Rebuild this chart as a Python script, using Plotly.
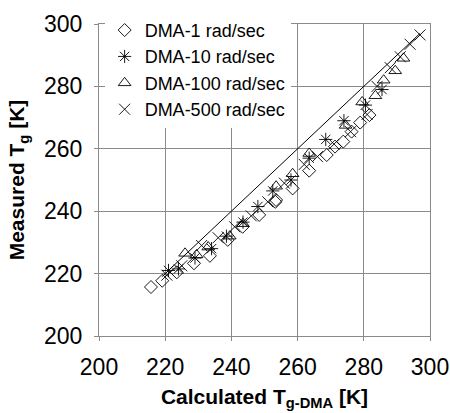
import plotly.graph_objects as go

# Data
dma1_x = [215.7, 219.1, 223.5, 228.7, 233.5, 238.9, 243.4, 248.4, 253.3, 253.5, 258.5, 263.5, 268.8, 271.3, 273.8, 276.3, 278.9, 281.7]
dma1_y = [215.7, 217.7, 220.4, 223.3, 225.7, 230.8, 235.0, 238.8, 243.0, 243.6, 247.3, 253.0, 258.0, 260.7, 262.3, 265.5, 268.4, 270.8]

dma10_x = [221.0, 224.0, 229.0, 234.0, 238.5, 243.5, 248.0, 252.5, 258.0, 263.5, 268.5, 274.0, 280.5, 285.5]
dma10_y = [221.0, 221.5, 225.0, 228.0, 232.0, 236.5, 241.5, 246.5, 250.0, 257.0, 263.0, 269.0, 274.0, 279.0]

dma100_x = [226.0, 229.5, 233.0, 239.5, 243.5, 253.5, 258.5, 263.5, 274.5, 279.5, 283.5, 286.0, 289.5, 292.0]
dma100_y = [226.5, 226.0, 228.5, 232.0, 236.0, 248.0, 252.0, 258.5, 267.5, 275.0, 277.0, 282.0, 285.0, 289.0]

dma500_x = [220.5, 225.0, 231.0, 236.0, 241.0, 246.0, 251.0, 256.0, 262.0, 266.0, 271.0, 276.0, 281.0, 284.0, 288.0, 291.0, 294.0, 297.0]
dma500_y = [219.5, 222.5, 229.0, 231.5, 235.0, 238.5, 243.0, 249.0, 255.0, 257.5, 261.5, 265.5, 271.0, 280.0, 286.0, 289.5, 293.5, 296.5]

line_x = [219.0, 297.0]
line_y = [219.0, 297.0]

tick_vals = [200, 220, 240, 260, 280, 300]
tick_text = ["200", "220", "240", "260", "280", "300"]

FONT = "Arial, Liberation Sans, sans-serif"

fig = go.Figure()
fig.add_trace(go.Scatter(x=line_x, y=line_y, mode="lines", line=dict(color="black", width=1),
                         showlegend=False, hoverinfo="skip"))

series = [
    ("DMA-1 rad/sec", dma1_x, dma1_y, "diamond-open", 10),
    ("DMA-10 rad/sec", dma10_x, dma10_y, "asterisk-open", 11),
    ("DMA-100 rad/sec", dma100_x, dma100_y, "triangle-up-open", 11),
    ("DMA-500 rad/sec", dma500_x, dma500_y, "x-thin-open", 11),
]
for i, (name, xs, ys, sym, sz) in enumerate(series):
    fig.add_trace(go.Scatter(x=xs, y=ys, mode="markers", name=name,
                             marker=dict(symbol=sym, size=sz, color="black",
                                         line=dict(color="black", width=0.9))))

axis_common = dict(
    range=[200, 300], tickvals=tick_vals, ticktext=tick_text,
    showgrid=True, gridcolor="#8a8a8a", gridwidth=1,
    showline=True, linecolor="#8a8a8a", linewidth=1, mirror=True,
    ticks="outside", ticklen=4, tickcolor="#8a8a8a",
    tickfont=dict(family=FONT, size=23, color="black"),
    zeroline=False, automargin=False,
)

fig.update_layout(
    width=450, height=413,
    margin=dict(l=99, r=20, t=24, b=77, autoexpand=False),
    paper_bgcolor="white", plot_bgcolor="white",
    font=dict(family=FONT, color="black"),
    xaxis=dict(axis_common, ticklabelstandoff=6,
               title=dict(text="<b>Calculated T<sub>g-DMA</sub> [K]</b>",
                          font=dict(family=FONT, size=21), standoff=10)),
    yaxis=dict(axis_common, ticklabelstandoff=7,
               title=dict(text="<b>Measured T<sub>g</sub> [K]</b>",
                          font=dict(family=FONT, size=21), standoff=13)),
    legend=dict(x=0.017, y=1.039, xanchor="left", yanchor="top",
                bgcolor="white", borderwidth=0,
                font=dict(family=FONT, size=18), itemwidth=30),
    showlegend=True,
)

# Remove the browser's default body margin so the 450x413 figure fills the window exactly.
fig.write_html("out.html",
               config={"displayModeBar": False},
               post_script="document.body.style.margin='0px';document.body.style.overflow='hidden';")
